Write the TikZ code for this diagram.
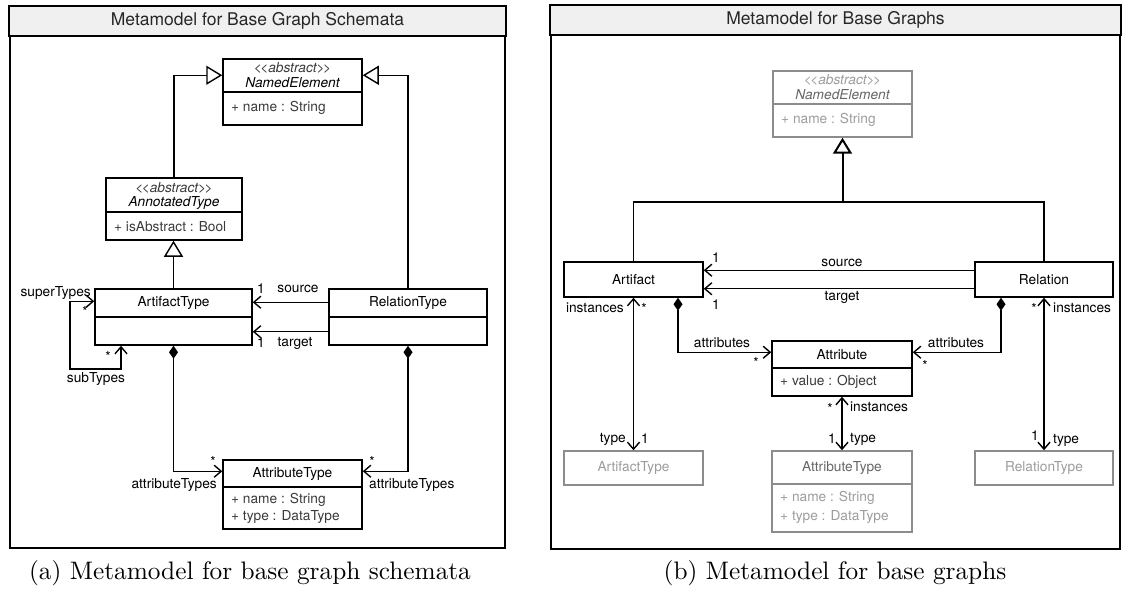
\documentclass[tikz,border=0pt]{standalone}
\usepackage{fontspec}
\newfontfamily\hv{TeX Gyre Heros}
\newfontfamily\capfont[Extension=.otf]{lmroman10-regular}
\usetikzlibrary{arrows.meta,calc}
\definecolor{tbar}{HTML}{F0F0F0}
\definecolor{attgray}{HTML}{3A3A3A}
\definecolor{gline}{HTML}{8C8C8C}
\definecolor{gtext}{HTML}{9C9C9C}
\definecolor{gdark}{HTML}{666666}
\newcommand\lblfont{\hv\fontsize{13.7}{16}\selectfont}
\newcommand\stereo[1]{<\kern-1.6pt<#1>\kern-1.6pt>}
\begin{document}
\begin{tikzpicture}[x=1pt,y=-1pt,
  panel/.style={draw, line width=1.8pt, inner sep=0pt},
  box/.style={draw, line width=1.5pt, inner sep=0pt},
  gbox/.style={draw=gline, line width=1.5pt, inner sep=0pt},
  div/.style={line width=1.5pt},
  gdiv/.style={draw=gline, line width=1.5pt},
  txt/.style={font=\lblfont, inner sep=0pt},
  itx/.style={font=\lblfont\itshape, inner sep=0pt},
  atx/.style={font=\lblfont, inner sep=0pt, text=attgray, anchor=west},
  ttl/.style={font=\hv\fontsize{17.5}{20}\selectfont, inner sep=0pt, text=black!85},
  captxt/.style={font=\capfont\fontsize{25.3}{30}\selectfont, inner sep=0pt},
  conn/.style={line width=1.4pt},
  opena/.style={conn, -{Straight Barb[length=7pt,width=12pt]}},
  bia/.style={conn, {Straight Barb[length=7pt,width=12pt]}-{Straight Barb[length=7pt,width=12pt]}},
  gen/.style={conn, -{Triangle[open, length=16pt, width=19pt, fill=white]}},
  comp/.style={conn, {Diamond[length=13pt,width=9pt]}-{Straight Barb[length=7pt,width=12pt]}}
]
\useasboundingbox (0,0) rectangle (1128,599);

% ---------------- left panel ----------------
\node[panel, minimum width=495pt, minimum height=541pt] (pL) at (257.5,277.5) {};
\filldraw[fill=tbar, line width=1.8pt] (pL.north west) rectangle ([yshift=-30pt]pL.north east);
\node[ttl] (tL) at ($(pL.north)+(0,15)$) {Metamodel for Base Graph Schemata};

% NamedElement
\node[box, minimum width=139pt, minimum height=66pt] (neL) at (292.5,92) {};
\draw[div] (neL.west) -- (neL.east);
\node[itx, text=attgray] (neLs) at (292.5,68) {\stereo{abstract}};
\node[itx] (neLn) at (292.5,83) {NamedElement};
\node[atx] (neLa) at (231,108) {+ name : String};

% AnnotatedType
\node[box, minimum width=136pt, minimum height=62pt] (atL) at (174,209) {};
\draw[div] (atL.west |- 0,212) -- (atL.east |- 0,212);
\node[itx, text=attgray] (atLs) at (174,188) {\stereo{abstract}};
\node[itx] (atLn) at (174,203) {AnnotatedType};
\node[atx] (atLa) at (114,227) {+ isAbstract : Bool};

% ArtifactType
\node[box, minimum width=157pt, minimum height=56pt] (artL) at (173.5,317) {};
\draw[div] (artL.west) -- (artL.east);
\node[txt] (artLn) at (173.5,303) {ArtifactType};

% RelationType
\node[box, minimum width=158pt, minimum height=56pt] (relL) at (408,317) {};
\draw[div] (relL.west) -- (relL.east);
\node[txt] (relLn) at (408,303) {RelationType};

% AttributeType
\node[box, minimum width=139pt, minimum height=69pt] (attL) at (292.5,494.5) {};
\draw[div] (attL.west |- 0,487) -- (attL.east |- 0,487);
\node[txt] (attLn) at (292.5,473.5) {AttributeType};
\node[atx] (attLa1) at (231,500) {+ name : String};
\node[atx] (attLa2) at (231,517) {+ type : DataType};

% connectors left
\draw[gen] (atL.north) |- ([yshift=-17pt]neL.north west);
\draw[gen] (relL.north) |- ([yshift=-17pt]neL.north east);
\draw[gen] (artL.north) -- (artL.north |- atL.south);
\draw[opena] ([yshift=-14pt]relL.north west) -- ([yshift=-14pt]artL.north east);
\draw[opena] ([yshift=14pt]relL.south west) -- ([yshift=14pt]artL.south east);
\coordinate (loopL) at (70,369);
\draw[bia] ([xshift=-52.5pt]artL.south) |- (loopL) |- ([yshift=-13pt]artL.north west);
\draw[comp] (artL.south) |- ([yshift=-12pt]attL.north west);
\draw[comp] (relL.south) |- ([yshift=-12pt]attL.north east);

% labels left
\node[txt] (l1) at (261,289) {1};
\node[txt] (l2) at (298,289) {source};
\node[txt] (l3) at (261,343) {1};
\node[txt] (l4) at (295,343) {target};
\node[txt, anchor=east] (l5) at (91,293) {superTypes};
\node[txt] (l6) at (85,312) {*};
\node[txt] (l7) at (108,357) {*};
\node[txt] (l8) at (96,379) {subTypes};
\node[txt] (l9) at (213,462) {*};
\node[txt, anchor=east] (l10) at (217,485) {attributeTypes};
\node[txt] (l11) at (372,462) {*};
\node[txt, anchor=west] (l12) at (369,485) {attributeTypes};

\node[captxt] (capL) at (250,573) {(a) Metamodel for base graph schemata};

% ---------------- right panel ----------------
\node[panel, minimum width=569pt, minimum height=543pt] (pR) at (835.5,277.5) {};
\filldraw[fill=tbar, line width=1.8pt] (pR.north west) rectangle ([yshift=-30pt]pR.north east);
\node[ttl] (tR) at ($(pR.north)+(0,15)$) {Metamodel for Base Graphs};

% NamedElement (grey)
\node[gbox, minimum width=139pt, minimum height=66pt] (neR) at (842.5,104) {};
\draw[gdiv] (neR.west) -- (neR.east);
\node[itx, text=gtext] (neRs) at (842.5,80) {\stereo{abstract}};
\node[itx, text=gdark] (neRn) at (842.5,95) {NamedElement};
\node[atx, text=gtext] (neRa) at (781,120) {+ name : String};

% Artifact, Relation
\node[box, minimum width=139pt, minimum height=35pt] (artR) at (633.5,279.5) {};
\node[txt] (artRn) at (633.5,279.5) {Artifact};
\node[box, minimum width=138pt, minimum height=35pt] (relR) at (1044,279.5) {};
\node[txt] (relRn) at (1044,279.5) {Relation};

% Attribute
\node[box, minimum width=140pt, minimum height=55pt] (attR) at (842,368.5) {};
\draw[div] (attR.west |- 0,368) -- (attR.east |- 0,368);
\node[txt] (attRn) at (842,354.5) {Attribute};
\node[atx] (attRa) at (780,382) {+ value : Object};

% grey type boxes
\node[gbox, minimum width=139pt, minimum height=34pt] (artTR) at (633.5,468) {};
\node[txt, text=gtext] (artTRn) at (633.5,468) {ArtifactType};
\node[gbox, minimum width=140pt, minimum height=81pt] (attTR) at (842,491.5) {};
\draw[gdiv] (attTR.west |- 0,484) -- (attTR.east |- 0,484);
\node[txt, text=gdark] (attTRn) at (842,467.5) {AttributeType};
\node[atx, text=gtext] (attTRa1) at (780,498) {+ name : String};
\node[atx, text=gtext] (attTRa2) at (780,517) {+ type : DataType};
\node[gbox, minimum width=138pt, minimum height=34pt] (relTR) at (1044,468) {};
\node[txt, text=gtext] (relTRn) at (1044,468) {RelationType};

% connectors right
\coordinate (jR) at (842.5,202);
\draw[conn] (artR.north) |- (jR);
\draw[conn] (relR.north) |- (jR);
\draw[gen, line width=2pt] (jR) -- (neR.south);
\draw[opena] ([yshift=-9pt]relR.north west) -- ([yshift=-9pt]artR.north east);
\draw[opena] ([yshift=9pt]relR.south west) -- ([yshift=9pt]artR.south east);
\draw[bia] (artR.south) -- (artTR.north);
\draw[bia] (attR.south) -- (attTR.north);
\draw[bia] (relR.south) -- (relTR.north);
\draw[comp] ([xshift=44.5pt]artR.south) |- ([yshift=-12pt]attR.north west);
\draw[comp] ([xshift=-43pt]relR.south) |- ([yshift=-12pt]attR.north east);

% labels right
\node[txt] (r1) at (716,258) {1};
\node[txt] (r2) at (842,263) {source};
\node[txt] (r3) at (842,297) {target};
\node[txt] (r4) at (716,305) {1};
\node[txt, anchor=east] (r5) at (624,308) {instances};
\node[txt] (r6) at (644,309) {*};
\node[txt] (r7) at (722,343) {attributes};
\node[txt] (r8) at (756,363) {*};
\node[txt] (r9) at (956,343) {attributes};
\node[txt] (r10) at (925,366) {*};
\node[txt] (r11) at (1034,309) {*};
\node[txt, anchor=west] (r12) at (1053,308) {instances};
\node[txt] (r13) at (830,409) {*};
\node[txt, anchor=west] (r14) at (850,407) {instances};
\node[txt, anchor=east] (r15) at (626,439) {type};
\node[txt] (r16) at (645,439) {1};
\node[txt] (r17) at (832,439) {1};
\node[txt, anchor=west] (r18) at (850,439) {type};
\node[txt] (r19) at (1035,436) {1};
\node[txt, anchor=west] (r20) at (1053,440) {type};

\node[captxt] (capR) at (835,573) {(b) Metamodel for base graphs};
\end{tikzpicture}
\end{document}
